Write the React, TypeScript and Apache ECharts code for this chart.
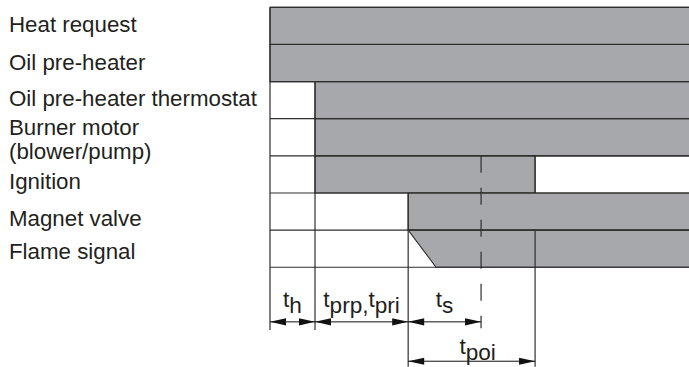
import React, { useEffect, useRef } from 'react';
import * as echarts from 'echarts';

// ---- rows (signals) ----
const rowNames = [
  'Heat request',
  'Oil pre-heater',
  'Oil pre-heater thermostat',
  'Burner motor\n(blower/pump)',
  'Ignition',
  'Magnet valve',
  'Flame signal',
];

// ---- timing events (time units) ----
const tStart = 0;
const tH = 1.0;
const tPrp = 3.07;
const tS = 4.69;
const tPoi = 5.89;
const tFlameFull = 3.69;
const tOpen = 9.6; // signal continues beyond the drawn range
const xVisibleEnd = 9.31;

const signalOn = [tStart, tStart, tH, tH, tH, tPrp, tPrp];
const signalOff = [tOpen, tOpen, tOpen, tOpen, tPoi, tOpen, tOpen];
const signalFullOn = [tStart, tStart, tH, tH, tH, tPrp, tFlameFull];

// ---- interval annotations ----
const intervalTokens = [['t', 'h'], ['t', 'prp,', 't', 'pri'], ['t', 's'], ['t', 'poi']];
const intervalFrom = [tStart, tH, tPrp, tPrp];
const intervalTo = [tH, tPrp, tS, tPoi];

// ---- layout / style (not data) ----
const FILL = '#a7a8ab';
const LINE = '#2e2e2e';
const TEXT = '#231f20';
const FONT = '"Liberation Sans", Arial, Helvetica, sans-serif';
const LABEL_SIZE = 22.3;
const ANN_SIZE = 22.6;
const labelShift = [-1.3, -0.5, -1.7, 0, 6.8, 6.5, 2.8];
const arrowLevel = [7.97, 7.97, 7.97, 9.03];
const textLevel = [7.46, 7.46, 7.46, 8.71];
const textDx = [0, 0, 0, 6];
const Y_MIN = -0.5;
const Y_MAX = 9.18;
const guides = [
  { t: tStart, from: -0.5, to: 8.19, dashed: 0 },
  { t: tH, from: 1.5, to: 8.19, dashed: 0 },
  { t: tPrp, from: 4.5, to: Y_MAX, dashed: 0 },
  { t: tPoi, from: 3.5, to: 4.5, dashed: 0 },
  { t: tPoi, from: 5.5, to: Y_MAX, dashed: 0 },
  { t: tS, from: 3.5, to: 8.14, dashed: 1 },
];

const yRich: Record<string, any> = {};
rowNames.forEach((_, i) => {
  const s = labelShift[i];
  yRich['r' + i] = {
    fontSize: LABEL_SIZE,
    fontFamily: FONT,
    color: TEXT,
    lineHeight: 29,
    padding: s >= 0 ? [2 * s, 0, 0, 0] : [0, 0, -2 * s, 0],
  };
});
yRich.b1 = { fontSize: LABEL_SIZE, fontFamily: FONT, color: TEXT, lineHeight: 29, padding: [9, 0, 0, 0] };

const annRich = {
  m: { fontSize: ANN_SIZE, fontFamily: FONT, fill: TEXT, padding: [0, 0, 6, 0] },
  s: { fontSize: ANN_SIZE, fontFamily: FONT, fill: TEXT, padding: [6, 0, 0, 0] },
};

export default function App() {
  const ref = useRef<HTMLDivElement>(null);
  useEffect(() => {
    if (!ref.current) return;
    const chart = echarts.init(ref.current, undefined, { renderer: 'svg' });

    const option: any = {
      animation: false,
      backgroundColor: '#ffffff',
      grid: { left: 270, right: 0, top: 7.3, bottom: 0.2 },
      xAxis: { type: 'value', min: 0, max: xVisibleEnd, show: false },
      yAxis: {
        type: 'value',
        inverse: true,
        min: Y_MIN,
        max: Y_MAX,
        interval: 0.5,
        axisLine: { show: false },
        axisTick: { show: false },
        splitLine: { show: false },
        axisLabel: {
          show: true,
          align: 'left',
          margin: 261,
          showMaxLabel: false,
          formatter: (v: number) => {
            const r = Math.round(v);
            if (Math.abs(v - r) > 1e-6 || r < 0 || r >= rowNames.length) return '';
            const lines = rowNames[r].split('\n');
            if (lines.length > 1) {
              return lines.map((l, k) => (k === 0 ? `{b1|${l}}` : `{r${r}|${l}}`)).join('\n');
            }
            return `{r${r}|${lines[0]}}`;
          },
          rich: yRich,
        },
      },
      series: [
        {
          type: 'custom',
          name: 'signals',
          encode: { x: [1, 2], y: 0 },
          data: rowNames.map((_, i) => [i, signalOn[i], signalOff[i], signalFullOn[i]]),
          renderItem: (_p: any, api: any) => {
            const row = api.value(0);
            const top = api.coord([0, row - 0.5])[1];
            const bottom = api.coord([0, row + 0.5])[1];
            const x1 = api.coord([api.value(1), row])[0];
            const x2 = api.coord([api.value(2), row])[0];
            const x3 = api.coord([api.value(3), row])[0];
            return {
              type: 'polygon',
              shape: { points: [[x1, top], [x2, top], [x2, bottom], [x3, bottom]] },
              style: { fill: FILL, stroke: LINE, lineWidth: 1.1 },
            };
          },
        },
        {
          type: 'custom',
          name: 'rowBoundaries',
          encode: { y: 0 },
          data: [...rowNames.map((_, i) => [i - 0.5]), [rowNames.length - 0.5]],
          renderItem: (_p: any, api: any) => {
            const b = api.value(0);
            const a = api.coord([tStart, b]);
            const c = api.coord([tOpen, b]);
            return {
              type: 'line',
              shape: { x1: a[0], y1: a[1], x2: c[0], y2: c[1] },
              style: { stroke: LINE, lineWidth: 1.2 },
            };
          },
        },
        {
          type: 'custom',
          name: 'guides',
          encode: { x: 0, y: [1, 2] },
          data: guides.map((g) => [g.t, g.from, g.to, g.dashed]),
          renderItem: (_p: any, api: any) => {
            const a = api.coord([api.value(0), api.value(1)]);
            const c = api.coord([api.value(0), api.value(2)]);
            const dashed = api.value(3) === 1;
            return {
              type: 'line',
              shape: { x1: a[0], y1: a[1], x2: c[0], y2: c[1] },
              style: { stroke: LINE, lineWidth: 1.2, lineDash: dashed ? [17, 15] : null },
            };
          },
        },
        {
          type: 'custom',
          name: 'arrows',
          encode: { x: [0, 1], y: 2 },
          data: intervalFrom.map((f, i) => [f, intervalTo[i], arrowLevel[i]]),
          renderItem: (_p: any, api: any) => {
            const a = api.coord([api.value(0), api.value(2)]);
            const c = api.coord([api.value(1), api.value(2)]);
            const y = a[1];
            const hl = 16;
            const hw = 3.6;
            return {
              type: 'group',
              children: [
                {
                  type: 'line',
                  shape: { x1: a[0], y1: y, x2: c[0], y2: y },
                  style: { stroke: '#111', lineWidth: 1 },
                },
                {
                  type: 'polygon',
                  shape: { points: [[a[0], y], [a[0] + hl, y - hw], [a[0] + hl, y + hw]] },
                  style: { fill: '#111' },
                },
                {
                  type: 'polygon',
                  shape: { points: [[c[0], y], [c[0] - hl, y - hw], [c[0] - hl, y + hw]] },
                  style: { fill: '#111' },
                },
              ],
            };
          },
        },
        {
          type: 'custom',
          name: 'intervalLabels',
          encode: { x: [0, 1], y: 2 },
          data: intervalFrom.map((f, i) => [f, intervalTo[i], textLevel[i], i]),
          renderItem: (_p: any, api: any) => {
            const i = api.value(3);
            const a = api.coord([api.value(0), api.value(2)]);
            const c = api.coord([api.value(1), api.value(2)]);
            const text = intervalTokens[i]
              .map((tok, k) => `{${k % 2 === 0 ? 'm' : 's'}|${tok}}`)
              .join('');
            return {
              type: 'text',
              x: (a[0] + c[0]) / 2 + textDx[i],
              y: a[1],
              style: {
                text,
                rich: annRich,
                fill: TEXT,
                fontSize: ANN_SIZE,
                fontFamily: FONT,
                align: 'center',
                verticalAlign: 'middle',
              },
            };
          },
        },
      ],
    };

    chart.setOption(option);
    return () => chart.dispose();
  }, []);

  return (
    <div
      ref={ref}
      style={{ position: 'fixed', left: 0, top: 0, width: 689, height: 367 }}
    />
  );
}
